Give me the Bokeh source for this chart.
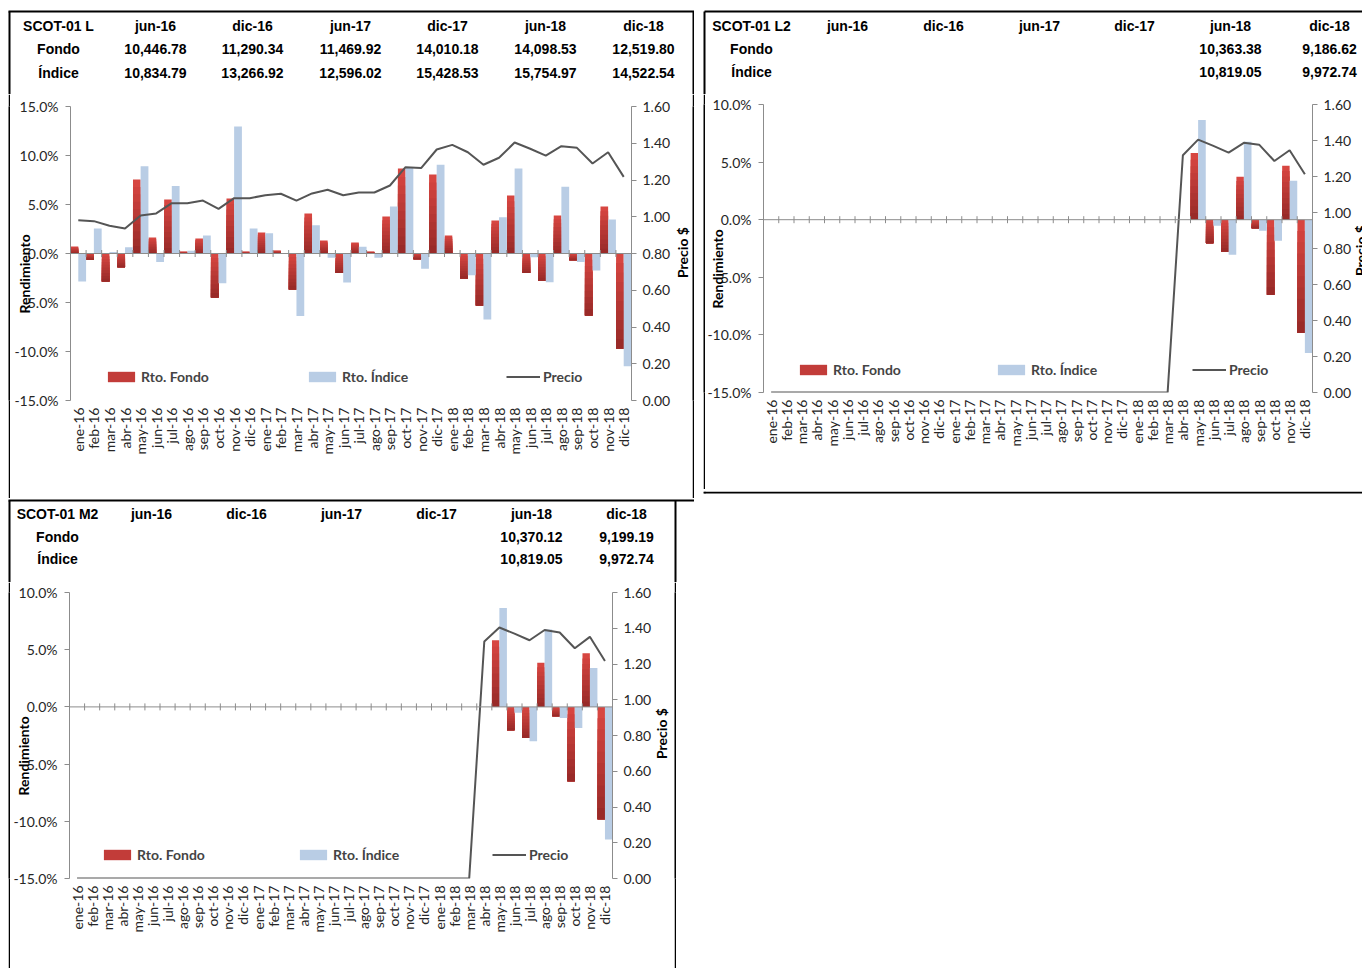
import numpy as np
from bokeh.plotting import figure
from bokeh.models import (FactorRange, Range1d, LinearAxis, FixedTicker, PrintfTickFormatter,
                          ColumnDataSource, Legend, LegendItem, Span, Spacer)
from bokeh.core.properties import value
from bokeh.transform import dodge
from bokeh.layouts import row, column
from bokeh.embed import file_html
from bokeh.resources import INLINE

# ---------------- data ----------------
months = ["ene-16", "feb-16", "mar-16", "abr-16", "may-16", "jun-16", "jul-16", "ago-16",
          "sep-16", "oct-16", "nov-16", "dic-16",
          "ene-17", "feb-17", "mar-17", "abr-17", "may-17", "jun-17", "jul-17", "ago-17",
          "sep-17", "oct-17", "nov-17", "dic-17",
          "ene-18", "feb-18", "mar-18", "abr-18", "may-18", "jun-18", "jul-18", "ago-18",
          "sep-18", "oct-18", "nov-18", "dic-18"]

periods = ["jun-16", "dic-16", "jun-17", "dic-17", "jun-18", "dic-18"]

# SCOT-01 L
l_fondo_tab = ["10,446.78", "11,290.34", "11,469.92", "14,010.18", "14,098.53", "12,519.80"]
l_indice_tab = ["10,834.79", "13,266.92", "12,596.02", "15,428.53", "15,754.97", "14,522.54"]
l_rto_fondo = [0.71, -0.61, -2.86, -1.40, 7.55, 1.63, 5.50, 0.20, 1.53, -4.49, 5.60, 0.20,
               2.14, 0.30, -3.67, 4.08, 1.33, -2.00, 1.12, 0.20, 3.78, 8.67, -0.58, 8.06,
               1.84, -2.55, -5.30, 3.37, 5.92, -2.00, -2.76, 3.88, -0.68, -6.33, 4.80, -9.69]
l_rto_indice = [-2.86, 2.55, 0.15, 0.65, 8.90, -0.88, 6.90, 0.27, 1.84, -3.03, 12.96, 2.55,
                2.07, 0.05, -6.39, 2.89, -0.44, -2.96, 0.68, -0.44, 4.80, 8.80, -1.56, 9.05,
                0.05, -2.21, -6.73, 3.71, 8.67, -0.37, -2.93, 6.80, -0.88, -1.73, 3.47, -11.50]
l_precio = [0.981, 0.976, 0.951, 0.936, 1.007, 1.018, 1.074, 1.074, 1.088, 1.043, 1.101, 1.101,
            1.117, 1.125, 1.088, 1.127, 1.147, 1.117, 1.132, 1.132, 1.170, 1.270, 1.265, 1.366,
            1.391, 1.351, 1.283, 1.321, 1.404, 1.370, 1.333, 1.384, 1.375, 1.290, 1.351, 1.217]

# SCOT-01 L2
l2_fondo_tab = ["", "", "", "", "10,363.38", "9,186.62"]
l2_indice_tab = ["", "", "", "", "10,819.05", "9,972.74"]
l2_rto_fondo = [None, None, None, None, None, None, None, None, None, None, None, None,
                None, None, None, None, None, None, None, None, None, None, None, None,
                None, None, None, None, 5.79, -2.05, -2.75, 3.73, -0.75, -6.51, 4.69, -9.81]
l2_rto_indice = [None, None, None, None, None, None, None, None, None, None, None, None,
                 None, None, None, None, None, None, None, None, None, None, None, None,
                 None, None, None, None, 8.65, -0.52, -3.04, 6.77, -0.95, -1.82, 3.39, -11.57]
l2_precio = [0.0, 0.0, 0.0, 0.0, 0.0, 0.0, 0.0, 0.0, 0.0, 0.0, 0.0, 0.0,
             0.0, 0.0, 0.0, 0.0, 0.0, 0.0, 0.0, 0.0, 0.0, 0.0, 0.0, 0.0,
             0.0, 0.0, 0.0, 1.318, 1.405, 1.370, 1.333, 1.387, 1.377, 1.286, 1.346, 1.212]

# SCOT-01 M2
m2_fondo_tab = ["", "", "", "", "10,370.12", "9,199.19"]
m2_indice_tab = ["", "", "", "", "10,819.05", "9,972.74"]
m2_rto_fondo = [None, None, None, None, None, None, None, None, None, None, None, None,
                None, None, None, None, None, None, None, None, None, None, None, None,
                None, None, None, None, 5.83, -2.04, -2.71, 3.85, -0.82, -6.50, 4.69, -9.82]
m2_rto_indice = [None, None, None, None, None, None, None, None, None, None, None, None,
                 None, None, None, None, None, None, None, None, None, None, None, None,
                 None, None, None, None, 8.65, -0.52, -3.00, 6.76, -0.96, -1.84, 3.41, -11.60]
m2_precio = [0.0, 0.0, 0.0, 0.0, 0.0, 0.0, 0.0, 0.0, 0.0, 0.0, 0.0, 0.0,
             0.0, 0.0, 0.0, 0.0, 0.0, 0.0, 0.0, 0.0, 0.0, 0.0, 0.0, 0.0,
             0.0, 0.0, 0.0, 1.326, 1.404, 1.370, 1.333, 1.390, 1.376, 1.288, 1.352, 1.217]

# ---------------- styling ----------------
AXIS_GRAY = "#8c8c8c"
BLUE = "#b9cde5"
LINE = "#555555"
RED_TOP = np.array([0xda, 0x47, 0x42])
RED_BOT = np.array([0x96, 0x29, 0x27])
HEAD_FONT = "Liberation Sans"
BODY_FONT = "Lato"
NBSP = "\u00a0"


def canvas_fig(w, h, x_range=None, y_range=None, borders=(0, 0, 0, 0), color="white"):
    """Axis-less figure; by default its frame is the whole canvas in pixel coords."""
    f = figure(width=w, height=h,
               x_range=x_range if x_range is not None else Range1d(0, w),
               y_range=y_range if y_range is not None else Range1d(h, 0),
               x_axis_type=None, y_axis_type=None, toolbar_location=None,
               output_backend="svg", min_border_left=borders[0], min_border_right=borders[1],
               min_border_top=borders[2], min_border_bottom=borders[3])
    f.outline_line_color = None
    f.background_fill_color = color
    f.border_fill_color = color
    return f


def black_bar(w, h):
    return canvas_fig(w, h, color="black")


def draw_segments(f, segs):
    x0, y0, x1, y1 = zip(*segs)
    f.segment(x0=list(x0), y0=list(y0), x1=list(x1), y1=list(y1), line_color="black",
              line_width=2)


def header_fig(w, h, name, ftab, itab, name_x, col_x, rows_y, segs):
    f = canvas_fig(w, h)
    xs, ys, ts = [name_x, name_x, name_x], list(rows_y), [name, "Fondo", "Índice"]
    for j, per in enumerate(periods):
        xs.append(col_x[j]); ys.append(rows_y[0]); ts.append(per)
        if ftab[j]:
            xs.append(col_x[j]); ys.append(rows_y[1]); ts.append(ftab[j])
        if itab[j]:
            xs.append(col_x[j]); ys.append(rows_y[2]); ts.append(itab[j])
    f.text(x=xs, y=ys, text=ts, text_font=value(HEAD_FONT), text_font_size="14px",
           text_font_style="bold", text_align="center", text_baseline="middle",
           text_color="black")
    draw_segments(f, segs)
    return f


def precio_strip(x0, x1, h, frame_top, frame_bottom, top_b, bottom_b, text_xy):
    """Strip next to a chart; its frame is aligned with the chart frame (page coords)."""
    f = canvas_fig(x1 - x0, h, x_range=Range1d(x0, x1),
                   y_range=Range1d(frame_bottom, frame_top), borders=(0, 0, top_b, bottom_b))
    f.text(x=[text_xy[0]], y=[text_xy[1]], text=["Precio $"], angle=np.pi / 2,
           text_font=value(BODY_FONT), text_font_size="14px", text_font_style="bold",
           text_align="center", text_baseline="middle", text_color="black")
    return f


def make_chart(cfg):
    W, H = cfg["size"]
    bl, br, bt, bb = cfg["borders"]
    p = figure(width=W, height=H, x_range=FactorRange(factors=months),
               y_range=Range1d(-15, cfg["ymax"]), output_backend="svg", toolbar_location=None,
               min_border_left=bl, min_border_right=br, min_border_top=bt, min_border_bottom=bb)
    p.extra_y_ranges = {"precio": Range1d(0, 1.6)}
    p.outline_line_color = None
    p.xgrid.visible = False
    p.ygrid.visible = False
    p.background_fill_color = "white"
    p.border_fill_color = "white"

    # red bars with a vertical gradient (each bar painted in overlapping slices)
    vals = np.array(cfg["fondo"], dtype=float)
    hi = np.maximum(vals, 0.0)
    lo = np.minimum(vals, 0.0)
    K = 10
    red_renderers = []
    for k in range(K):
        top = hi - (hi - lo) * (k / K)
        c = RED_TOP + (RED_BOT - RED_TOP) * ((k + 0.5) / K)
        color = "#%02x%02x%02x" % tuple(int(round(v)) for v in c)
        src = ColumnDataSource(dict(m=months, t=top, b=lo))
        r = p.vbar(x=dodge("m", -0.245, range=p.x_range), width=0.49, top="t", bottom="b",
                   source=src, fill_color=color, line_color=None)
        red_renderers.append(r)

    src = ColumnDataSource(dict(m=months, i=np.array(cfg["indice"], dtype=float),
                                pr=np.array(cfg["precio"], dtype=float)))
    blue = p.vbar(x=dodge("m", 0.25, range=p.x_range), width=0.5, top="i", bottom=0,
                  source=src, fill_color=BLUE, line_color=None)

    # category axis drawn at 0 % with crossing tick marks
    p.add_layout(Span(location=0, dimension="width", line_color=AXIS_GRAY, line_width=1))
    bounds = np.arange(len(months) + 1)
    p.scatter(x=bounds, y=np.zeros(len(bounds)), marker="dash", size=7, angle=np.pi / 2,
              line_color=AXIS_GRAY, line_width=1)

    line = p.line(x="m", y="pr", source=src, y_range_name="precio", line_color=LINE,
                  line_width=2)

    left = p.left[0]
    left.ticker = FixedTicker(ticks=cfg["lticks"])
    left.formatter = PrintfTickFormatter(format="%.1f%%")
    left.axis_label = "Rendimiento" + NBSP * 12
    left.axis_label_text_font = BODY_FONT
    left.axis_label_text_font_style = "bold"
    left.axis_label_text_font_size = "14px"
    left.axis_label_text_color = "black"
    left.axis_label_standoff = -22
    right = LinearAxis(y_range_name="precio",
                       ticker=FixedTicker(ticks=[0.0, 0.2, 0.4, 0.6, 0.8, 1.0, 1.2, 1.4, 1.6]),
                       formatter=PrintfTickFormatter(format="%.2f"))
    p.add_layout(right, "right")
    for ax in (left, right):
        ax.axis_line_color = AXIS_GRAY
        ax.major_tick_line_color = AXIS_GRAY
        ax.major_tick_out = 5
        ax.major_tick_in = 0
        ax.minor_tick_line_color = None
        ax.major_label_text_font = BODY_FONT
        ax.major_label_text_font_size = "14px"
        ax.major_label_text_color = "#262626"
    left.major_label_standoff = 7
    right.major_label_standoff = 6
    xa = p.below[0]
    xa.axis_line_color = None
    xa.major_tick_line_color = None
    xa.major_tick_in = 0
    xa.major_tick_out = 0
    xa.major_label_orientation = np.pi / 2
    xa.major_label_text_font = BODY_FONT
    xa.major_label_text_font_size = "14px"
    xa.major_label_text_color = "#262626"
    xa.major_label_standoff = 7

    legend = Legend(items=[LegendItem(label="Rto. Fondo", renderers=[red_renderers[3]]),
                           LegendItem(label="Rto. Índice", renderers=[blue]),
                           LegendItem(label="Precio", renderers=[line])],
                    orientation="horizontal", location=cfg["legend_loc"], padding=0, margin=0,
                    spacing=0, glyph_width=34, glyph_height=13, label_standoff=3,
                    label_width=cfg["label_width"], label_text_font=BODY_FONT,
                    label_text_font_style="bold", label_text_font_size="14px",
                    background_fill_alpha=0, border_line_color=None)
    p.add_layout(legend)
    return p


# ---------------- panel SCOT-01 L (top left) ----------------
head1 = header_fig(694, 94, "SCOT-01 L", l_fondo_tab, l_indice_tab, 58,
                   [155, 252, 350, 447, 545, 643], [25, 48, 72],
                   [(8, 11, 694, 11), (9, 11, 9, 94), (693, 11, 693, 94)])
chart1 = make_chart(dict(size=(664, 404), borders=(60, 43, 12, 98), ymax=15,
                         lticks=[-15, -10, -5, 0, 5, 10, 15],
                         fondo=l_rto_fondo, indice=l_rto_indice, precio=l_precio,
                         legend_loc=(34, 15), label_width=164))
row1 = row(Spacer(width=8, height=404), black_bar(2, 404), chart1,
           precio_strip(674, 692, 404, 106, 400, 12, 98, (682, 252)), black_bar(2, 404))

# ---------------- panel SCOT-01 M2 (bottom left) ----------------
head3 = header_fig(694, 84, "SCOT-01 M2", m2_fondo_tab, m2_indice_tab, 57,
                   [151, 246, 341, 436, 531, 626], [15, 38, 60],
                   [(8, 2, 694, 2), (9, 2, 9, 84), (675, 2, 675, 84)])
chart3 = make_chart(dict(size=(644, 386), borders=(59, 41, 10, 90), ymax=10,
                         lticks=[-15, -10, -5, 0, 5, 10],
                         fondo=m2_rto_fondo, indice=m2_rto_indice, precio=m2_precio,
                         legend_loc=(31, 15), label_width=159))
row3 = row(Spacer(width=8, height=386), black_bar(2, 386), chart3,
           precio_strip(654, 674, 386, 592, 878, 10, 90, (661, 733)), black_bar(2, 386))

# ---------------- panel SCOT-01 L2 (top right) ----------------
head2 = header_fig(668, 94, "SCOT-01 L2", l2_fondo_tab, l2_indice_tab, 57,
                   [153, 249, 345, 440, 536, 635], [25, 48, 71],
                   [(10, 11, 668, 11), (10, 11, 10, 94)])
chart2 = make_chart(dict(size=(649, 395), borders=(58, 41, 10, 97), ymax=10,
                         lticks=[-15, -10, -5, 0, 5, 10],
                         fondo=l2_rto_fondo, indice=l2_rto_indice, precio=l2_precio,
                         legend_loc=(33, 14), label_width=161))
row2 = row(Spacer(width=9, height=395), black_bar(2, 395), chart2,
           precio_strip(1354, 1362, 395, 104, 392, 10, 97, (1360, 250)))
bottom2 = canvas_fig(668, 10)
draw_segments(bottom2, [(10, 1, 668, 1), (10, 0, 10, 2)])

left_col = column(head1, row1, head3, row3)
right_col = column(head2, row2, bottom2)
layout = row(left_col, right_col)

open("out.html", "w").write(file_html(layout, INLINE))
